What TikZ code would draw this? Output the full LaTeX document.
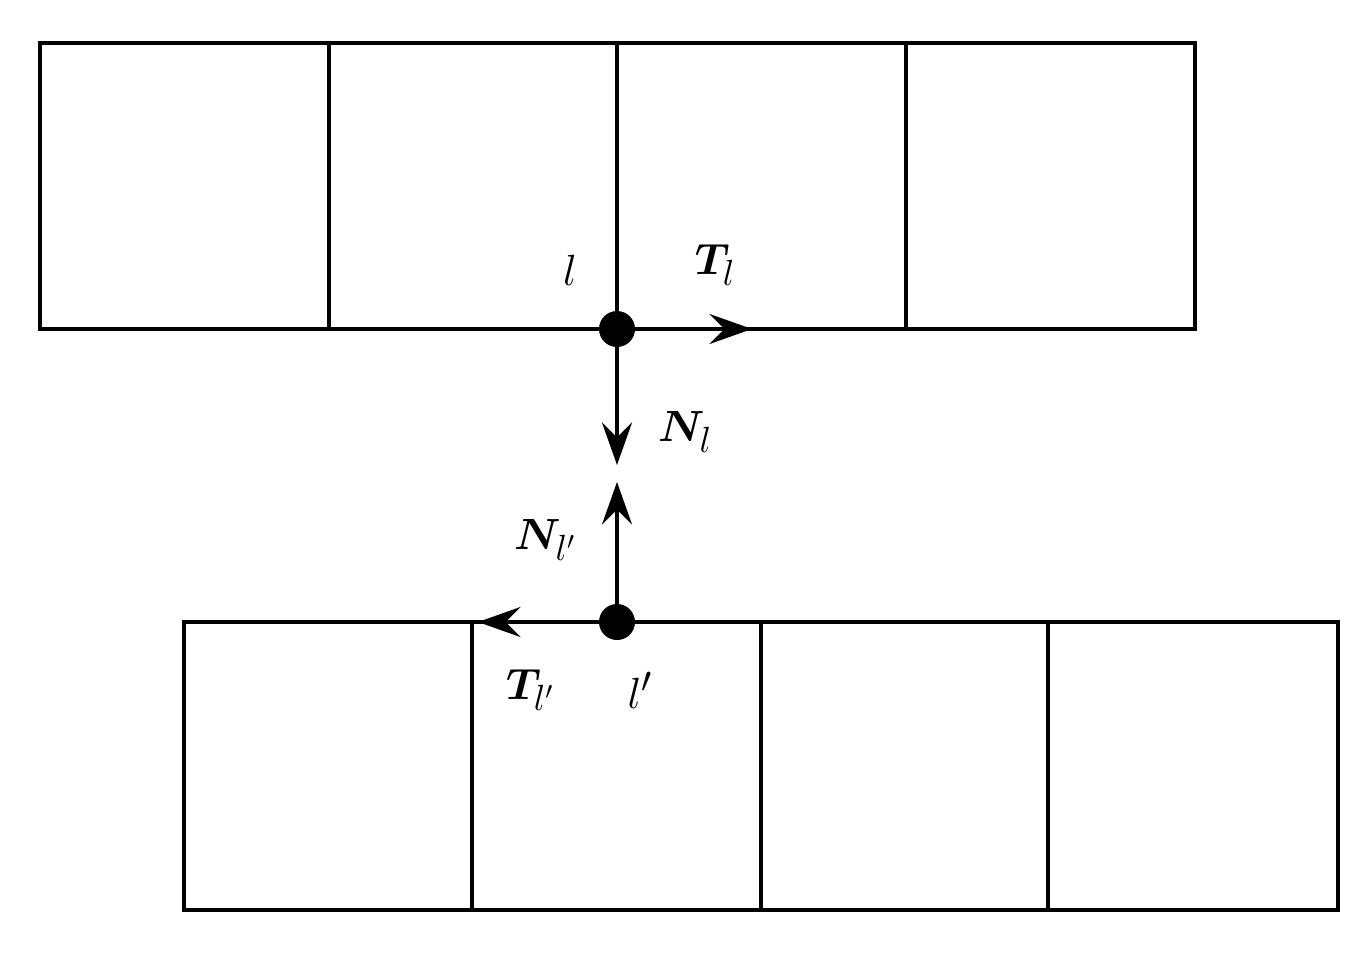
\documentclass[tikz,border=0pt]{standalone}
\usepackage{amsmath,bm}
\usetikzlibrary{arrows.meta}
\begin{document}
\begin{tikzpicture}[x=0.02cm,y=-0.02cm,
  cell/.style={line width=2.2pt},
  vec/.style={line width=2.2pt,-{Stealth[length=0.85cm,width=0.6cm,inset=0.3cm]}},
  lab/.style={font=\fontsize{30}{36}\selectfont}]
\useasboundingbox (0,0) rectangle (1370,957);
\draw[cell] (40,43) rectangle (1195,329);
\foreach \x in {329,617,906} \draw[cell] (\x,43) -- (\x,329);
\draw[cell] (184,622) rectangle (1338,910);
\foreach \x in {472,761,1048} \draw[cell] (\x,622) -- (\x,910);
\coordinate (l) at (617,329);
\coordinate (lp) at (617,622);
\coordinate (te) at (752,329);
\coordinate (ne) at (617,465);
\coordinate (npe) at (617,482);
\coordinate (tpe) at (478,622);
\draw[vec] (l) -- (te);
\draw[vec] (l) -- (ne);
\draw[vec] (lp) -- (npe);
\draw[vec] (lp) -- (tpe);
\fill (l) circle (18);
\fill (lp) circle (18);
\node[lab] (ll) at (570,270) {$l$};
\node[lab] (tl) at (715,265) {$\bm{T}_{l}$};
\node[lab] (nl) at (685,432) {$\bm{N}_{l}$};
\node[lab] (nlp) at (545,540) {$\bm{N}_{l'}$};
\node[lab] (tlp) at (530,690) {$\bm{T}_{l'}$};
\node[lab] (llp) at (640,690) {$l'$};
\end{tikzpicture}
\end{document}
